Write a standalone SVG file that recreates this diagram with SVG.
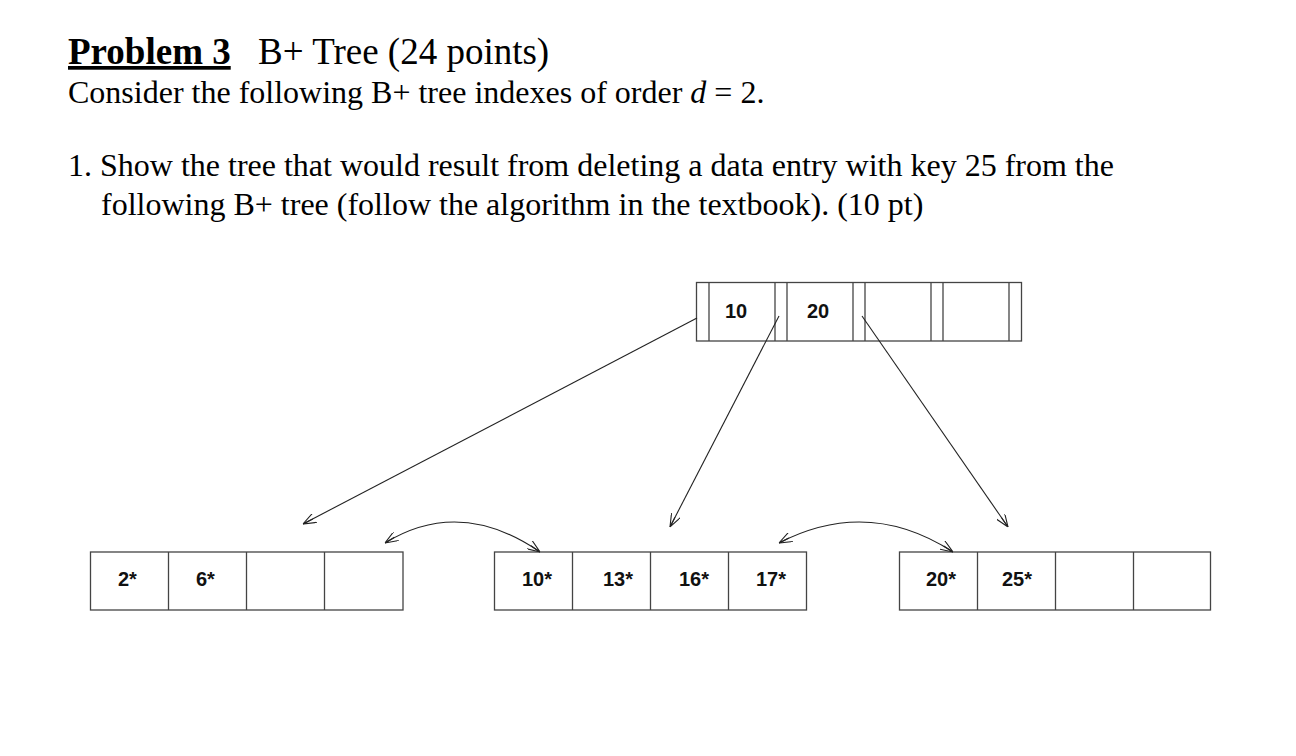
<svg xmlns="http://www.w3.org/2000/svg" width="1296" height="756" viewBox="0 0 1296 756">
<style>
.t{font-family:"Liberation Serif","Times New Roman",serif;font-size:32px;fill:#000}
.h{font-size:37px}
.k{font-family:"Liberation Sans",Arial,sans-serif;font-size:20px;font-weight:bold;fill:#111}
.box{fill:#fff;stroke:#444;stroke-width:1.3}
.ln{stroke:#444;stroke-width:1.3}
.c{fill:none;stroke:#222;stroke-width:1.1}
</style>
<defs>
<marker id="ah" viewBox="0 0 13 10" refX="13" refY="5" markerWidth="13" markerHeight="10" markerUnits="userSpaceOnUse" orient="auto-start-reverse">
<path d="M0,0 L13,5 L0,10 M13,5 L2,5" fill="none" stroke="#222" stroke-width="1.1"/>
</marker>
</defs>
<rect width="1296" height="756" fill="#fff"/>
<g id="text">
<text class="t h" x="68" y="64"><tspan font-weight="bold" text-decoration="underline">Problem 3</tspan><tspan x="258">B+ Tree (24 points)</tspan></text>
<text class="t" x="68" y="103">Consider the following B+ tree indexes of order <tspan font-style="italic">d</tspan> = 2.</text>
<text class="t" x="68" y="176">1. Show the tree that would result from deleting a data entry with key 25 from the</text>
<text class="t" x="101" y="215">following B+ tree (follow the algorithm in the textbook). (10 pt)</text>
</g>
<g id="root">
<rect class="box" x="696.5" y="282.5" width="325" height="58.5"/>
<line class="ln" x1="709" y1="282.5" x2="709" y2="341"/>
<line class="ln" x1="775" y1="282.5" x2="775" y2="341"/>
<line class="ln" x1="787" y1="282.5" x2="787" y2="341"/>
<line class="ln" x1="853" y1="282.5" x2="853" y2="341"/>
<line class="ln" x1="865" y1="282.5" x2="865" y2="341"/>
<line class="ln" x1="931" y1="282.5" x2="931" y2="341"/>
<line class="ln" x1="943" y1="282.5" x2="943" y2="341"/>
<line class="ln" x1="1009" y1="282.5" x2="1009" y2="341"/>
<text class="k" x="725" y="318">10</text>
<text class="k" x="807" y="318">20</text>
</g>
<g id="leaf1">
<rect class="box" x="90.5" y="552" width="312.5" height="58"/>
<line class="ln" x1="168.5" y1="552" x2="168.5" y2="610"/>
<line class="ln" x1="246.5" y1="552" x2="246.5" y2="610"/>
<line class="ln" x1="324.5" y1="552" x2="324.5" y2="610"/>
<text class="k" x="118" y="586">2*</text>
<text class="k" x="196" y="586">6*</text>
</g>
<g id="leaf2">
<rect class="box" x="494.5" y="552" width="312" height="58"/>
<line class="ln" x1="572.5" y1="552" x2="572.5" y2="610"/>
<line class="ln" x1="650.5" y1="552" x2="650.5" y2="610"/>
<line class="ln" x1="728.5" y1="552" x2="728.5" y2="610"/>
<text class="k" x="522" y="586">10*</text>
<text class="k" x="603" y="586">13*</text>
<text class="k" x="679" y="586">16*</text>
<text class="k" x="756" y="586">17*</text>
</g>
<g id="leaf3">
<rect class="box" x="899.5" y="552" width="311" height="58"/>
<line class="ln" x1="977.5" y1="552" x2="977.5" y2="610"/>
<line class="ln" x1="1055.5" y1="552" x2="1055.5" y2="610"/>
<line class="ln" x1="1133.5" y1="552" x2="1133.5" y2="610"/>
<text class="k" x="926" y="586">20*</text>
<text class="k" x="1002" y="586">25*</text>
</g>
<g id="connectors">
<line class="c" x1="697" y1="318" x2="303" y2="524" marker-end="url(#ah)"/>
<line class="c" x1="779" y1="316" x2="670" y2="527" marker-end="url(#ah)"/>
<line class="c" x1="862" y1="316" x2="1008" y2="527" marker-end="url(#ah)"/>
<path class="c" d="M385,543 Q460,497 540,552" marker-start="url(#ah)" marker-end="url(#ah)"/>
<path class="c" d="M779,543 Q868,497 953,552" marker-start="url(#ah)" marker-end="url(#ah)"/>
</g>
</svg>
